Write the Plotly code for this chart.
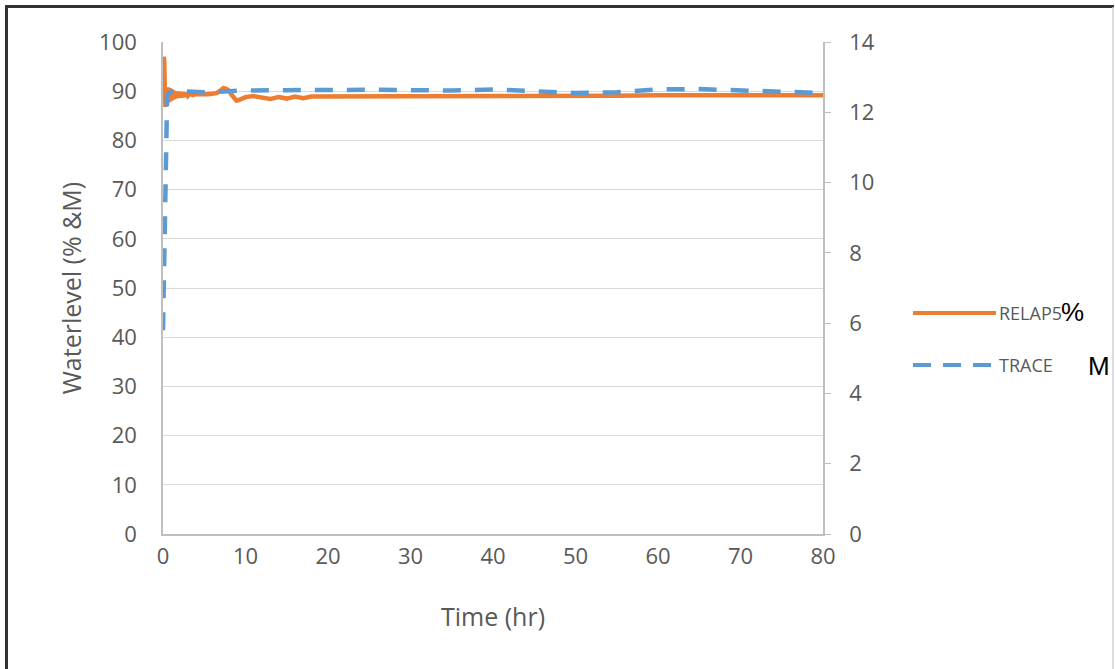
import plotly.graph_objects as go

# ---------------- data ----------------
relap_t = [0.0, 0.05, 0.1, 0.15, 0.2, 0.25, 0.3, 0.4, 0.5, 0.6, 0.7, 0.8, 0.9, 1.0,
           1.1, 1.2, 1.3, 1.4, 1.5, 1.6, 1.8, 2.0, 2.2, 2.4, 2.6, 2.8, 3.0, 3.3,
           3.6, 4.0, 4.5, 5.0, 5.5, 6.0, 6.5, 7.0, 7.3, 7.6, 8.0, 8.3, 8.6, 8.9,
           9.2, 9.6, 10.0, 11.0, 12.0, 13.0, 14.0, 15.0, 16.0, 17.0, 18.0, 20.0,
           25.0, 30.0, 35.0, 40.0, 45.0, 50.0, 55.0, 60.0, 65.0, 70.0, 75.0, 80.0]
relap_pct = [89.0, 93.0, 97.0, 96.0, 92.0, 88.0, 86.8, 90.6, 87.6, 90.8, 87.8, 90.6,
             88.0, 90.4, 88.2, 90.2, 88.4, 90.0, 88.5, 89.9, 88.7, 89.8, 88.8, 89.7,
             88.9, 89.6, 89.0, 89.5, 89.2, 89.4, 89.3, 89.4, 89.4, 89.5, 89.6, 90.2,
             90.6, 90.5, 90.1, 89.3, 88.5, 88.1, 88.2, 88.5, 88.8, 89.0, 88.7, 88.4,
             88.8, 88.5, 88.9, 88.6, 88.9, 88.9, 89.0, 88.9, 89.0, 89.1, 89.1, 89.1,
             89.1, 89.2, 89.2, 89.2, 89.2, 89.2]

trace_t = [0.0, 0.1, 0.2, 0.3, 0.4, 0.5, 0.7, 1.0, 2.0, 3.0, 5.0, 8.0, 10.0, 15.0,
           20.0, 25.0, 30.0, 35.0, 40.0, 45.0, 50.0, 55.0, 60.0, 65.0, 70.0, 75.0, 80.0]
trace_m = [5.8, 7.5, 9.5, 11.2, 12.2, 12.45, 12.55, 12.58, 12.6, 12.58, 12.57, 12.6,
           12.62, 12.63, 12.65, 12.64, 12.63, 12.62, 12.65, 12.6, 12.55, 12.57, 12.65,
           12.66, 12.63, 12.58, 12.55]

x_ticks = [0, 10, 20, 30, 40, 50, 60, 70, 80]
y1_ticks = [0, 10, 20, 30, 40, 50, 60, 70, 80, 90, 100]
y2_ticks = [0, 2, 4, 6, 8, 10, 12, 14]

series_names = ["RELAP5", "TRACE"]
series_units = ["%", "M"]

ORANGE = "#ED7D31"
BLUE = "#5B9BD5"
GRAY_TXT = "#595959"
FONT = "Open Sans"

W, H = 1115, 669
L, R, T, B = 163, 292, 42, 135
PW, PH = W - L - R, H - T - B


def px(x):
    return (x - L) / PW


def py(y):
    return (H - B - y) / PH


fig = go.Figure()
fig.add_trace(go.Scatter(x=relap_t, y=relap_pct, name=series_names[0], mode="lines",
                         line=dict(color=ORANGE, width=4.5), yaxis="y"))
fig.add_trace(go.Scatter(x=trace_t, y=trace_m, name=series_names[1], mode="lines",
                         line=dict(color=BLUE, width=4.5, dash="18px,14px"), yaxis="y2"))

fig.update_layout(
    width=W, height=H,
    margin=dict(l=L, r=R, t=T, b=B, autoexpand=False),
    paper_bgcolor="white", plot_bgcolor="white",
    showlegend=False,
    font=dict(family=FONT, color=GRAY_TXT, size=22),
    xaxis=dict(range=[0, 80], tickvals=x_ticks, showgrid=False, zeroline=False,
               showline=True, linecolor="#bfbfbf", linewidth=1.5, ticks="",
               ticklabelstandoff=2,
               title=dict(text="Time (hr)", font=dict(size=25), standoff=39)),
    yaxis=dict(range=[0, 100], tickvals=y1_ticks, showgrid=True, gridcolor="#d9d9d9",
               gridwidth=1, zeroline=False, showline=True, linecolor="#bfbfbf",
               linewidth=1.5, ticks="", ticklabelstandoff=20,
               title=dict(text="Waterlevel (% &M)", font=dict(size=25), standoff=10)),
    yaxis2=dict(range=[0, 14], tickvals=y2_ticks, overlaying="y", side="right",
                showgrid=False, zeroline=False, showline=True, linecolor="#bfbfbf",
                linewidth=1.5, ticks="outside", ticklen=6, tickcolor="#bfbfbf",
                ticklabelstandoff=14),
)

# outer frame
frame = [
    (6.5, 6, 6.5, H + 2, "#333333", 3),
    (5, 6.5, W - 1, 6.5, "#333333", 3),
    (W - 2, 7, W - 2, H + 2, "#d0d0d0", 1.5),
]
for x0, y0, x1, y1, c, w in frame:
    fig.add_shape(type="line", xref="paper", yref="paper",
                  x0=px(x0), y0=py(y0), x1=px(x1), y1=py(y1),
                  line=dict(color=c, width=w))

# custom legend
leg_y = [313, 365]
leg_col = [ORANGE, BLUE]
leg_dash = ["solid", "18px,12px"]
for i in range(2):
    fig.add_shape(type="line", xref="paper", yref="paper",
                  x0=px(913), x1=px(996), y0=py(leg_y[i]), y1=py(leg_y[i]),
                  line=dict(color=leg_col[i], width=4, dash=leg_dash[i]))
    fig.add_annotation(xref="paper", yref="paper", x=px(997), y=py(leg_y[i]),
                       text=series_names[i], showarrow=False, xanchor="left",
                       yanchor="middle", font=dict(size=18, color=GRAY_TXT))

fig.add_annotation(xref="paper", yref="paper", x=px(1059), y=py(312),
                   text=series_units[0], showarrow=False, xanchor="left",
                   yanchor="middle", font=dict(family="Liberation Sans", size=26, color="black"))
fig.add_annotation(xref="paper", yref="paper", x=px(1086), y=py(366),
                   text=series_units[1], showarrow=False, xanchor="left",
                   yanchor="middle", font=dict(family="Liberation Sans", size=26, color="black"))

fig.write_html("out.html", config={"displayModeBar": False},
               post_script="document.body.style.margin='0px';document.body.style.overflow='hidden';")
